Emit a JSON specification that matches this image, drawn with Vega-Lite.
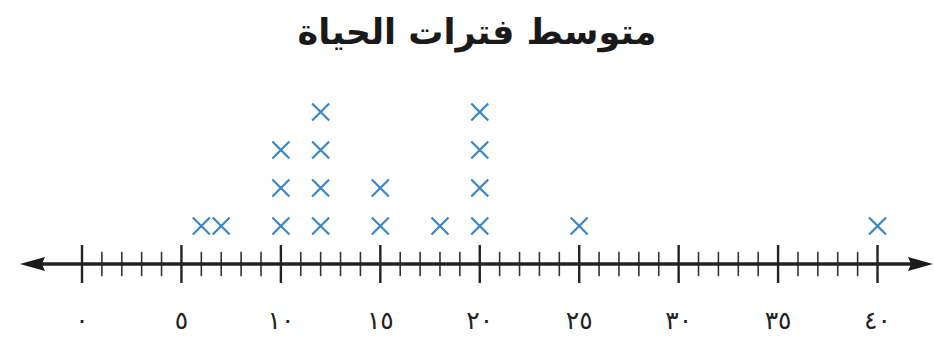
{
  "$schema": "https://vega.github.io/schema/vega-lite/v6.json",
  "width": 934,
  "height": 262,
  "autosize": {"type": "none"},
  "padding": {"left": 0, "right": 0, "top": 80, "bottom": 0},
  "background": "white",
  "config": {"view": {"stroke": null}},
  "title": {
    "text": "متوسط فترات الحياة",
    "font": "DejaVu Sans",
    "fontSize": 35,
    "fontWeight": "bold",
    "color": "#1a1a1a",
    "anchor": "middle",
    "baseline": "alphabetic",
    "offset": 1,
    "dx": 10
  },
  "datasets": {
    "points": [
      {"v": 6, "k": 1}, {"v": 7, "k": 1},
      {"v": 10, "k": 1}, {"v": 10, "k": 2}, {"v": 10, "k": 3},
      {"v": 12, "k": 1}, {"v": 12, "k": 2}, {"v": 12, "k": 3}, {"v": 12, "k": 4},
      {"v": 15, "k": 1}, {"v": 15, "k": 2},
      {"v": 18, "k": 1},
      {"v": 20, "k": 1}, {"v": 20, "k": 2}, {"v": 20, "k": 3}, {"v": 20, "k": 4},
      {"v": 25, "k": 1},
      {"v": 40, "k": 1}
    ],
    "ticks": [
      {"v": 0, "major": true, "label": "٠"}, {"v": 1, "major": false}, {"v": 2, "major": false}, {"v": 3, "major": false}, {"v": 4, "major": false},
      {"v": 5, "major": true, "label": "٥"}, {"v": 6, "major": false}, {"v": 7, "major": false}, {"v": 8, "major": false}, {"v": 9, "major": false},
      {"v": 10, "major": true, "label": "١٠"}, {"v": 11, "major": false}, {"v": 12, "major": false}, {"v": 13, "major": false}, {"v": 14, "major": false},
      {"v": 15, "major": true, "label": "١٥"}, {"v": 16, "major": false}, {"v": 17, "major": false}, {"v": 18, "major": false}, {"v": 19, "major": false},
      {"v": 20, "major": true, "label": "٢٠"}, {"v": 21, "major": false}, {"v": 22, "major": false}, {"v": 23, "major": false}, {"v": 24, "major": false},
      {"v": 25, "major": true, "label": "٢٥"}, {"v": 26, "major": false}, {"v": 27, "major": false}, {"v": 28, "major": false}, {"v": 29, "major": false},
      {"v": 30, "major": true, "label": "٣٠"}, {"v": 31, "major": false}, {"v": 32, "major": false}, {"v": 33, "major": false}, {"v": 34, "major": false},
      {"v": 35, "major": true, "label": "٣٥"}, {"v": 36, "major": false}, {"v": 37, "major": false}, {"v": 38, "major": false}, {"v": 39, "major": false},
      {"v": 40, "major": true, "label": "٤٠"}
    ]
  },
  "resolve": {"scale": {"x": "shared", "y": "shared"}},
  "layer": [
    {
      "data": {"name": "ticks"},
      "transform": [{"filter": "!datum.major"}],
      "mark": {"type": "rule", "color": "#333333", "strokeWidth": 1.6},
      "encoding": {
        "x": {"field": "v", "type": "quantitative", "scale": {"domain": [-4.123, 42.84], "nice": false, "zero": false}, "axis": null},
        "y": {"datum": -0.32, "type": "quantitative", "scale": {"domain": [-2.0526, 4.8421], "nice": false, "zero": false}, "axis": null},
        "y2": {"datum": 0.32}
      }
    },
    {
      "data": {"name": "ticks"},
      "transform": [{"filter": "datum.major"}],
      "mark": {"type": "rule", "color": "#222222", "strokeWidth": 2.4},
      "encoding": {
        "x": {"field": "v", "type": "quantitative"},
        "y": {"datum": -0.5, "type": "quantitative"},
        "y2": {"datum": 0.5}
      }
    },
    {
      "data": {"values": [{}]},
      "mark": {"type": "rule", "color": "#222222", "strokeWidth": 3.5},
      "encoding": {
        "x": {"datum": -2.6, "type": "quantitative"},
        "x2": {"datum": 42.3},
        "y": {"datum": 0, "type": "quantitative"}
      }
    },
    {
      "data": {"values": [{}]},
      "mark": {"type": "point", "shape": "M -1 0 L 1 -0.56 L 0.75 0 L 1 0.56 Z", "filled": true, "color": "#1a1a1a", "opacity": 1, "size": 625},
      "encoding": {
        "x": {"datum": -2.489, "type": "quantitative"},
        "y": {"datum": 0, "type": "quantitative"}
      }
    },
    {
      "data": {"values": [{}]},
      "mark": {"type": "point", "shape": "M 1 0 L -1 -0.56 L -0.75 0 L -1 0.56 Z", "filled": true, "color": "#1a1a1a", "opacity": 1, "size": 625},
      "encoding": {
        "x": {"datum": 42.16, "type": "quantitative"},
        "y": {"datum": 0, "type": "quantitative"}
      }
    },
    {
      "data": {"name": "ticks"},
      "transform": [{"filter": "datum.major"}],
      "mark": {"type": "text", "font": "DejaVu Sans", "fontSize": 25, "color": "#222222", "baseline": "middle", "align": "center"},
      "encoding": {
        "x": {"field": "v", "type": "quantitative"},
        "y": {"datum": -1.5, "type": "quantitative"},
        "text": {"field": "label"}
      }
    },
    {
      "data": {"name": "points"},
      "mark": {"type": "point", "shape": "M -1 -1 L 1 1 M -1 1 L 1 -1", "filled": false, "color": "#3a86c4", "strokeWidth": 2.2, "opacity": 1, "size": 289},
      "encoding": {
        "x": {"field": "v", "type": "quantitative"},
        "y": {"field": "k", "type": "quantitative"}
      }
    }
  ]
}
